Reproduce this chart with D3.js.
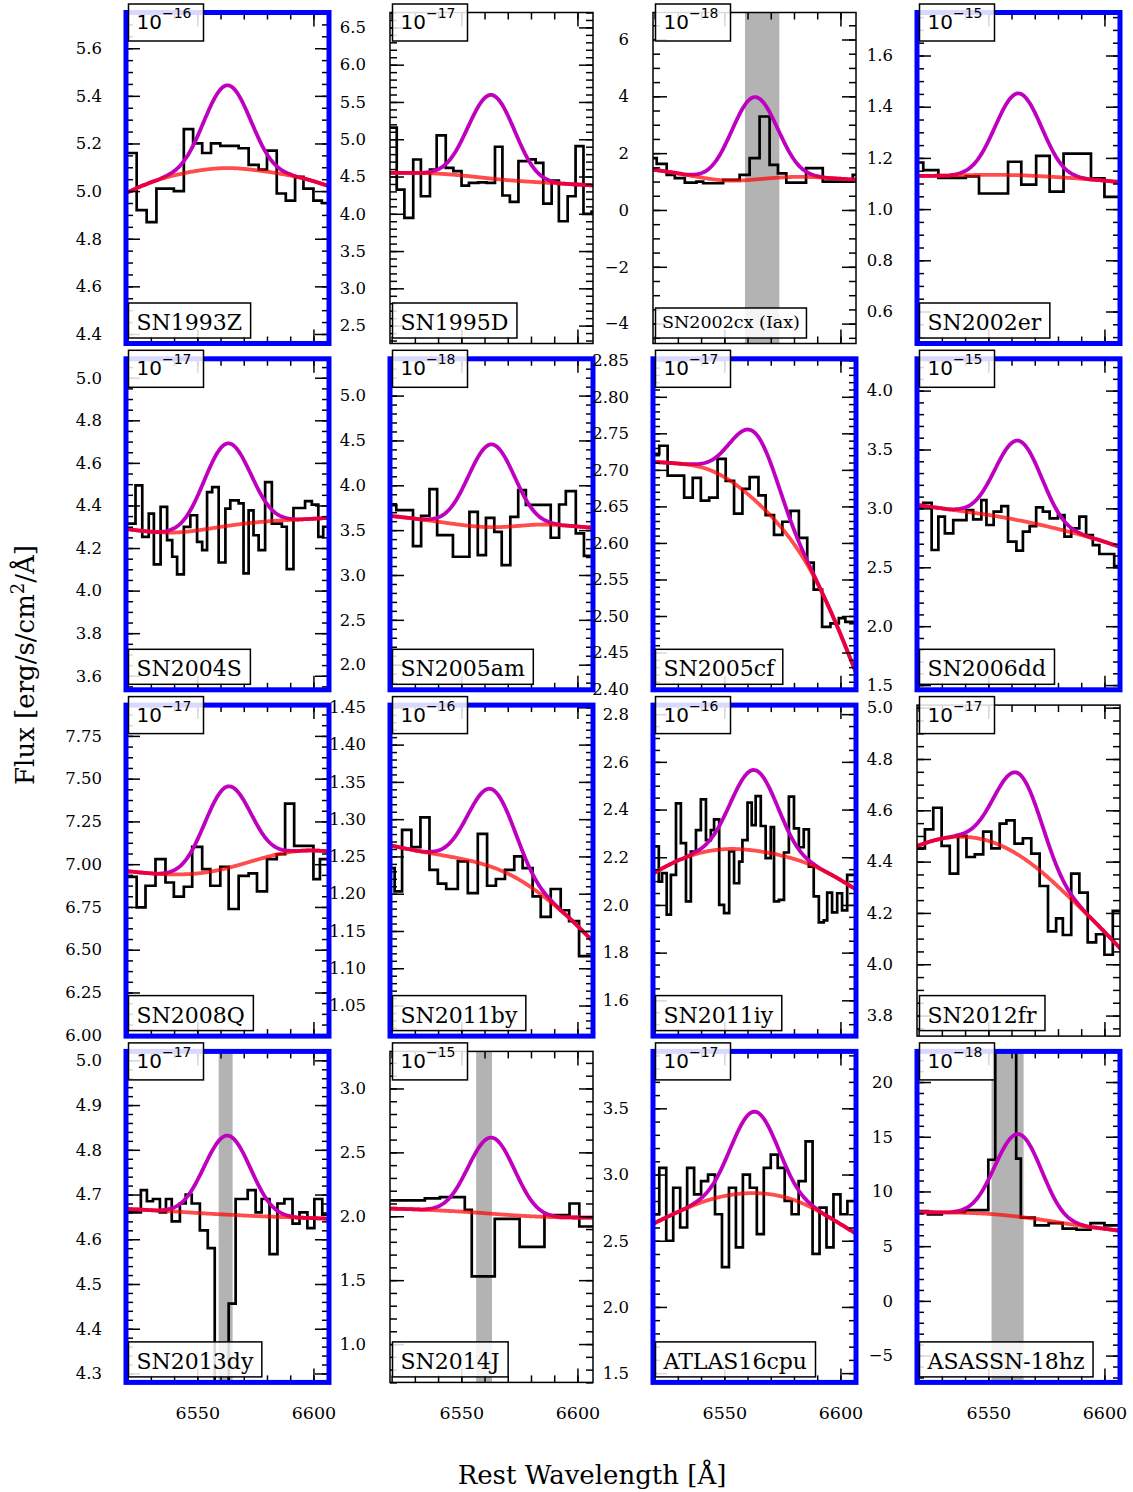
<!DOCTYPE html>
<html>
<head>
<meta charset="utf-8">
<script src="https://cdn.jsdelivr.net/npm/d3@7"></script>
<style>
  body { margin: 0; background: #fff; }
  text { font-family: "DejaVu Serif", serif; fill: #000; }
</style>
</head>
<body>
<script>
// panel names, exponents and frame colour, in reading order
const names = ["SN1993Z", "SN1995D", "SN2002cx (Iax)", "SN2002er",
  "SN2004S", "SN2005am", "SN2005cf", "SN2006dd",
  "SN2008Q", "SN2011by", "SN2011iy", "SN2012fr",
  "SN2013dy", "SN2014J", "ATLAS16cpu", "ASASSN-18hz"];
const exponents = [-16, -17, -18, -15, -17, -18, -17, -15, -17, -16, -16, -17, -17, -15, -17, -18];
const blueFrame = [true, false, false, true, true, true, true, true, true, true, true, false, true, false, true, true];

// y limits, major tick step and decimals of the tick labels
const yDomains = [[4.36, 5.75], [2.26, 6.70], [-4.70, 6.95], [0.475, 1.768],
  [3.534, 5.089], [1.72, 5.41], [2.399, 2.852], [1.46, 4.27],
  [5.995, 7.93], [1.009, 1.453], [1.45, 2.838], [3.72, 5.01],
  [4.28, 5.02], [0.70, 3.29], [1.43, 3.93], [-7.45, 22.8]];
const yStep = [0.2, 0.5, 2, 0.2, 0.2, 0.5, 0.05, 0.5, 0.25, 0.05, 0.2, 0.2, 0.1, 0.5, 0.5, 5];
const yDecimals = [1, 1, 0, 1, 1, 1, 2, 1, 2, 2, 1, 1, 1, 1, 1, 0];

// wavelength axis
const xDomain = [6519.3, 6606.7];
const xMinor = [6520, 6530, 6540, 6550, 6560, 6570, 6580, 6590, 6600];
const xMajor = [6550, 6600];

// masked regions
const bands = [null, null, [6558.9, 6573.7], null, null, null, null, null,
  null, null, null, null, [6559.2, 6565.2], [6556.4, 6563.2], null, [6551.4, 6565.2]];

// continuum model sampled at contWave, H-alpha line amplitude and profile
const contWave = [6519, 6530, 6541, 6552, 6563, 6574, 6585, 6596, 6607];
const lineWave = [6533, 6538, 6543, 6548, 6553, 6558, 6563, 6568, 6573, 6578, 6583, 6588, 6593];
const lineShape = [0, 0.02, 0.09, 0.28, 0.59, 0.9, 1.04, 0.9, 0.59, 0.28, 0.09, 0.02, 0];
const lineAmp = [0.35, 1.13, 2.92, 0.322, 0.39, 0.93, 0.093, 0.68, 0.48, 0.105, 0.34, 0.32, 0.178, 0.6, 0.62, 7.6];

// spectra: bin edges and flux per bin
const sn1993zEdges = [6519, 6523.9, 6528.2, 6532.4, 6536.3, 6539.9, 6544.2, 6548.2, 6552.1, 6555.9, 6559.9, 6564.2, 6567.8, 6572.1, 6576.4, 6580.0, 6584.2, 6588.1, 6592.1, 6595.7, 6600.0, 6603.6, 6607];
const sn1993zFlux = [5.16, 4.92, 4.87, 5.01, 5.01, 5.00, 5.26, 5.20, 5.16, 5.20, 5.19, 5.19, 5.18, 5.11, 5.09, 5.17, 4.99, 4.96, 5.06, 5.01, 4.96, 4.95];
const sn1993zCont = [4.99, 5.04, 5.07, 5.09, 5.10, 5.09, 5.075, 5.055, 5.02];

const sn1995dEdges = [6519, 6522.2, 6525.5, 6529.3, 6532.6, 6536.5, 6539.4, 6543.3, 6546.6, 6550.1, 6553.3, 6557.3, 6560.9, 6564.5, 6567.7, 6570.9, 6574.6, 6578.9, 6582.0, 6585.3, 6588.9, 6592.0, 6595.8, 6599.2, 6602.6, 6606.1, 6607];
const sn1995dFlux = [5.155, 4.325, 3.945, 4.728, 4.235, 4.594, 5.051, 4.617, 4.571, 4.379, 4.415, 4.42, 4.415, 4.899, 4.245, 4.16, 4.706, 4.73, 4.684, 4.137, 4.446, 3.90, 4.235, 4.907, 3.999, 4.03];
const sn1995dCont = [4.55, 4.55, 4.54, 4.51, 4.47, 4.44, 4.42, 4.40, 4.38];

const sn2002cxEdges = [6519, 6520.9, 6525.2, 6528.7, 6533.0, 6538.0, 6540.9, 6549.5, 6556.6, 6560.9, 6565.2, 6569.5, 6573.1, 6576.7, 6585.2, 6592.4, 6598.1, 6605.3, 6607];
const sn2002cxFlux = [1.825, 1.62, 1.235, 1.12, 0.965, 1.0, 0.94, 1.06, 1.235, 1.825, 3.29, 1.59, 1.29, 0.965, 1.47, 1.0, 1.0, 1.235];
const sn2002cxCont = [1.42, 1.30, 1.12, 1.0, 1.07, 1.15, 1.18, 1.12, 1.06];

const sn2002erEdges = [6519, 6522.0, 6528.5, 6540.3, 6546.0, 6558.5, 6564.2, 6570.6, 6576.4, 6582.4, 6594.2, 6600.0, 6607];
const sn2002erFlux = [1.182, 1.152, 1.122, 1.128, 1.061, 1.185, 1.096, 1.208, 1.068, 1.217, 1.12, 1.048];
const sn2002erCont = [1.13, 1.13, 1.133, 1.134, 1.133, 1.128, 1.122, 1.115, 1.105];

const sn2004sEdges = [6519, 6523.4, 6526.3, 6529.1, 6531.3, 6534.2, 6537.0, 6539.2, 6541.3, 6544.2, 6547.0, 6549.9, 6552.1, 6554.2, 6556.4, 6559.2, 6562.1, 6564.2, 6567.8, 6569.9, 6572.1, 6574.2, 6576.4, 6579.2, 6582.1, 6586.4, 6588.5, 6591.4, 6596.4, 6599.3, 6602.1, 6604.2, 6607];
const sn2004sFlux = [4.315, 4.494, 4.252, 4.362, 4.123, 4.393, 4.237, 4.159, 4.076, 4.299, 4.354, 4.229, 4.19, 4.463, 4.486, 4.132, 4.385, 4.424, 4.41, 4.081, 4.377, 4.26, 4.19, 4.51, 4.315, 4.30, 4.101, 4.388, 4.42, 4.404, 4.252, 4.30];
const sn2004sCont = [4.29, 4.275, 4.27, 4.285, 4.305, 4.32, 4.33, 4.335, 4.342];

const sn2005amEdges = [6519, 6522.0, 6529.2, 6532.7, 6536.3, 6539.6, 6546.4, 6553.5, 6557.1, 6560.6, 6564.2, 6567.4, 6571.1, 6574.5, 6577.8, 6588.5, 6592.1, 6595.0, 6599.3, 6602.8, 6607];
const sn2005amFlux = [3.778, 3.723, 3.322, 3.659, 3.957, 3.445, 3.203, 3.704, 3.222, 3.637, 3.481, 3.11, 3.648, 3.945, 3.782, 3.415, 3.786, 3.934, 3.463, 3.214];
const sn2005amCont = [3.66, 3.63, 3.59, 3.55, 3.525, 3.545, 3.57, 3.55, 3.525];

const sn2005cfEdges = [6519, 6522.0, 6525.6, 6532.7, 6536.4, 6539.9, 6543.5, 6547.1, 6550.6, 6554.2, 6557.8, 6560.9, 6564.7, 6567.8, 6571.4, 6575.0, 6578.5, 6582.1, 6585.7, 6588.5, 6592.1, 6595.7, 6599.3, 6602.1, 6607];
const sn2005cfFlux = [2.722, 2.733, 2.692, 2.662, 2.689, 2.658, 2.662, 2.715, 2.685, 2.64, 2.674, 2.69, 2.665, 2.638, 2.611, 2.629, 2.644, 2.607, 2.573, 2.536, 2.485, 2.49, 2.497, 2.492];
const sn2005cfCont = [2.711, 2.709, 2.705, 2.688, 2.66, 2.625, 2.578, 2.508, 2.42];

const sn2006ddEdges = [6519, 6522.0, 6525.6, 6528.5, 6531.3, 6534.9, 6540.6, 6543.5, 6547.0, 6549.2, 6552.3, 6555.6, 6558.5, 6562.1, 6564.9, 6567.8, 6570.6, 6573.5, 6576.4, 6580.0, 6582.8, 6585.7, 6589.2, 6592.1, 6595.0, 6597.8, 6604.2, 6607];
const sn2006ddFlux = [3.014, 3.048, 2.647, 2.93, 2.788, 2.901, 2.986, 2.907, 3.07, 2.859, 2.972, 3.02, 2.718, 2.642, 2.802, 2.85, 3.008, 2.972, 2.915, 2.943, 2.76, 2.83, 2.93, 2.774, 2.689, 2.613, 2.511];
const sn2006ddCont = [3.03, 3.0, 2.97, 2.94, 2.90, 2.855, 2.80, 2.745, 2.67];

const sn2008qEdges = [6519, 6523.9, 6527.7, 6532.0, 6536.3, 6539.9, 6544.2, 6547.8, 6552.1, 6555.6, 6559.9, 6563.5, 6567.8, 6572.1, 6575.7, 6580.0, 6584.2, 6587.8, 6591.7, 6600.0, 6602.8, 6607];
const sn2008qFlux = [6.926, 6.748, 6.874, 7.029, 6.893, 6.81, 6.868, 7.101, 6.971, 6.874, 6.985, 6.738, 6.932, 6.946, 6.841, 7.029, 7.058, 7.354, 7.107, 6.913, 7.029];
const sn2008qCont = [6.96, 6.945, 6.938, 6.945, 6.975, 7.02, 7.062, 7.085, 7.075];

const sn2011byEdges = [6519, 6521.3, 6524.5, 6528.5, 6532.4, 6536.3, 6539.9, 6543.5, 6548.5, 6552.8, 6557.1, 6561.1, 6564.9, 6568.8, 6572.8, 6576.4, 6580.7, 6584.2, 6588.5, 6592.8, 6596.4, 6600.7, 6607];
const sn2011byFlux = [1.2344, 1.2032, 1.2856, 1.2624, 1.3025, 1.2321, 1.2134, 1.2063, 1.2433, 1.2009, 1.2802, 1.2107, 1.2197, 1.2321, 1.25, 1.2344, 1.1965, 1.1689, 1.2063, 1.1778, 1.1631, 1.1163];
const sn2011byCont = [1.265, 1.258, 1.252, 1.246, 1.237, 1.222, 1.198, 1.17, 1.135];

const sn2011iyEdges = [6519, 6521.8, 6523.2, 6525.2, 6527.0, 6529.2, 6531.3, 6533.5, 6535.6, 6537.8, 6539.9, 6542.1, 6544.2, 6545.6, 6547.8, 6549.9, 6552.1, 6554.2, 6556.4, 6557.8, 6560.0, 6561.8, 6563.5, 6565.7, 6567.8, 6570.0, 6571.4, 6573.5, 6575.7, 6577.8, 6580.0, 6582.1, 6584.2, 6586.4, 6588.5, 6590.7, 6592.8, 6594.3, 6596.4, 6598.6, 6600.7, 6602.9, 6607];
const sn2011iyFlux = [2.245, 2.098, 2.133, 1.959, 2.126, 2.426, 2.259, 2.015, 2.224, 2.314, 2.443, 2.272, 2.314, 2.359, 2.0, 1.966, 2.224, 2.091, 2.182, 2.272, 2.429, 2.335, 2.456, 2.331, 2.196, 2.326, 2.015, 2.021, 2.22, 2.454, 2.321, 2.242, 2.317, 2.161, 2.036, 1.927, 1.935, 2.052, 1.969, 2.049, 1.977, 2.126];
const sn2011iyCont = [2.13, 2.19, 2.225, 2.238, 2.23, 2.21, 2.18, 2.13, 2.063];

const sn2012frEdges = [6519, 6522.7, 6526.3, 6529.9, 6533.4, 6537.0, 6540.6, 6544.2, 6547.8, 6551.3, 6554.9, 6557.8, 6561.3, 6564.9, 6568.5, 6572.1, 6575.7, 6579.2, 6582.1, 6585.7, 6589.2, 6592.8, 6596.4, 6600.0, 6603.6, 6607];
const sn2012frFlux = [4.452, 4.526, 4.61, 4.461, 4.353, 4.5, 4.418, 4.428, 4.517, 4.452, 4.548, 4.561, 4.47, 4.491, 4.431, 4.305, 4.128, 4.179, 4.114, 4.353, 4.279, 4.085, 4.117, 4.037, 4.208];
const sn2012frCont = [4.46, 4.495, 4.50, 4.48, 4.43, 4.355, 4.26, 4.165, 4.06];

const sn2013dyEdges = [6519, 6525.7, 6528.3, 6530.9, 6533.9, 6536.5, 6539.0, 6542.5, 6545.0, 6547.6, 6551.1, 6554.5, 6557.5, 6563.5, 6566.5, 6571.7, 6575.1, 6577.7, 6581.1, 6584.5, 6587.5, 6591.0, 6594.0, 6597.4, 6600.4, 6603.8, 6607];
const sn2013dyFlux = [4.66, 4.71, 4.685, 4.69, 4.66, 4.69, 4.64, 4.68, 4.70, 4.68, 4.62, 4.58, 4.2, 4.456, 4.69, 4.71, 4.66, 4.69, 4.567, 4.68, 4.69, 4.635, 4.66, 4.625, 4.69, 4.655];
const sn2013dyCont = [4.668, 4.665, 4.662, 4.658, 4.655, 4.652, 4.65, 4.648, 4.646];

const sn2014jEdges = [6519, 6534.3, 6540.8, 6551.5, 6554.5, 6564.4, 6575.1, 6585.8, 6596.6, 6600.8, 6607];
const sn2014jFlux = [2.125, 2.14, 2.15, 2.05, 1.53, 1.98, 1.76, 2.01, 2.1, 1.92];
const sn2014jCont = [2.06, 2.055, 2.045, 2.035, 2.02, 2.005, 1.995, 1.99, 1.99];

const atlas16cpuEdges = [6519, 6522, 6525, 6528, 6531, 6534, 6537, 6540, 6543, 6546, 6549, 6552, 6555, 6558, 6561, 6564, 6567, 6570, 6573, 6576, 6579, 6582, 6585, 6588, 6591, 6594, 6597, 6600, 6603, 6607];
const atlas16cpuFlux = [2.7, 3.05, 2.5, 2.9, 2.6, 3.05, 2.85, 2.95, 3.0, 2.7, 2.3, 2.9, 2.45, 3.0, 2.9, 2.55, 3.05, 3.15, 3.05, 2.8, 2.7, 2.95, 3.25, 2.4, 2.75, 2.45, 2.85, 2.7, 2.8];
const atlas16cpuCont = [2.625, 2.72, 2.8, 2.85, 2.865, 2.845, 2.78, 2.67, 2.55];

const asassn18hzEdges = [6519, 6524, 6530, 6540, 6550, 6553, 6558, 6562, 6564, 6570, 6576, 6582, 6588, 6594, 6600, 6607];
const asassn18hzFlux = [8.2, 7.9, 8.1, 8.3, 12.9, 25, 25, 13, 7.6, 6.9, 7.1, 6.6, 6.5, 7.1, 6.9];
const asassn18hzCont = [8.1, 8.1, 8.05, 7.95, 7.7, 7.4, 7.0, 6.7, 6.4];

const allEdges = [sn1993zEdges, sn1995dEdges, sn2002cxEdges, sn2002erEdges, sn2004sEdges, sn2005amEdges,
  sn2005cfEdges, sn2006ddEdges, sn2008qEdges, sn2011byEdges, sn2011iyEdges, sn2012frEdges,
  sn2013dyEdges, sn2014jEdges, atlas16cpuEdges, asassn18hzEdges];
const allFlux = [sn1993zFlux, sn1995dFlux, sn2002cxFlux, sn2002erFlux, sn2004sFlux, sn2005amFlux,
  sn2005cfFlux, sn2006ddFlux, sn2008qFlux, sn2011byFlux, sn2011iyFlux, sn2012frFlux,
  sn2013dyFlux, sn2014jFlux, atlas16cpuFlux, asassn18hzFlux];
const allCont = [sn1993zCont, sn1995dCont, sn2002cxCont, sn2002erCont, sn2004sCont, sn2005amCont,
  sn2005cfCont, sn2006ddCont, sn2008qCont, sn2011byCont, sn2011iyCont, sn2012frCont,
  sn2013dyCont, sn2014jCont, atlas16cpuCont, asassn18hzCont];

// figure frame
const width = 1133, height = 1492;
const colX = [126, 390, 653, 917],
  rowY = [12.5, 358.8, 705.1, 1051.4],
  pw = 203,
  ph = 331;

let svg = d3.select("body").append("svg").attr("width", width).attr("height", height);
svg.append("rect").attr("width", width).attr("height", height).attr("fill", "white");

// tick values k*step inside [lo, hi]
function tickRange(lo, hi, step) {
  let out = [];
  for (let k = Math.ceil(lo / step - 1e-6); k * step <= hi + 1e-9; k++) {
    out.push(+(k * step).toFixed(6));
  }
  return out;
}

const stepLine = d3.line().curve(d3.curveStepAfter);
const smoothLine = d3.line();
const contT = (w) => (w - contWave[0]) / (contWave[contWave.length - 1] - contWave[0]);
const shapeFn = d3.interpolateBasis(lineShape);
const lineProfile = function (w) {
  if (w < lineWave[0] || w > lineWave[lineWave.length - 1]) return 0;
  return shapeFn((w - lineWave[0]) / (lineWave[lineWave.length - 1] - lineWave[0]));
};
const grid = d3.range(contWave[0], contWave[contWave.length - 1] + 0.01, 0.5);

names.forEach(function (name, i) {
  let col = i % 4,
    row = Math.floor(i / 4);
  let x = d3.scaleLinear().domain(xDomain).range([0, pw]);
  let y = d3.scaleLinear().domain(yDomains[i]).range([ph, 0]);

  let g = svg.append("g").attr("transform", "translate(" + colX[col] + "," + rowY[row] + ")");

  g.append("clipPath").attr("id", "clip" + i)
    .append("rect").attr("width", pw).attr("height", ph);
  let plot = g.append("g").attr("clip-path", "url(#clip" + i + ")");

  // masked band
  if (bands[i]) {
    plot.append("rect")
      .attr("x", x(bands[i][0]))
      .attr("width", x(bands[i][1]) - x(bands[i][0]))
      .attr("y", 0)
      .attr("height", ph)
      .attr("fill", "#b3b3b3");
  }

  // binned spectrum
  let edges = allEdges[i], flux = allFlux[i];
  let pts = flux.map((f, k) => [x(edges[k]), y(f)]);
  pts.push([x(edges[edges.length - 1]), y(flux[flux.length - 1])]);
  plot.append("path")
    .attr("d", stepLine(pts))
    .attr("fill", "none")
    .attr("stroke", "black")
    .attr("stroke-width", 2.7);

  // continuum + line model
  let cont = d3.interpolateBasis(allCont[i]);
  plot.append("path")
    .attr("d", smoothLine(grid.map((w) => [x(w), y(cont(contT(w)) + lineAmp[i] * lineProfile(w))])))
    .attr("fill", "none")
    .attr("stroke", "#bf00bf")
    .attr("stroke-width", 3.8);
  plot.append("path")
    .attr("d", smoothLine(grid.map((w) => [x(w), y(cont(contT(w)))])))
    .attr("fill", "none")
    .attr("stroke", "#ff0000")
    .attr("stroke-opacity", 0.7)
    .attr("stroke-width", 3.8);

  // y ticks, labels on the left
  let lo = yDomains[i][0], hi = yDomains[i][1];
  let major = tickRange(lo, hi, yStep[i]);
  let mant = +(yStep[i] / Math.pow(10, Math.floor(Math.log10(yStep[i]) + 1e-9))).toFixed(3);
  let ndiv = mant == 1 || mant == 5 ? 5 : 4;
  let minor = tickRange(lo, hi, yStep[i] / ndiv);
  let fmt = d3.format("." + yDecimals[i] + "f");

  let yl = g.append("g").call(d3.axisLeft(y).tickValues(major).tickSize(-14).tickPadding(24).tickFormat(fmt));
  g.append("g").call(d3.axisLeft(y).tickValues(minor).tickSize(-7).tickFormat(""));
  g.append("g").attr("transform", "translate(" + pw + ",0)")
    .call(d3.axisRight(y).tickValues(major).tickSize(-14).tickFormat(""));
  g.append("g").attr("transform", "translate(" + pw + ",0)")
    .call(d3.axisRight(y).tickValues(minor).tickSize(-7).tickFormat(""));
  yl.selectAll("text").style("font-size", "16.5px").style("font-family", "DejaVu Serif");

  // x ticks top and bottom
  g.append("g").call(d3.axisTop(x).tickValues(xMinor).tickSize(-7).tickFormat(""));
  g.append("g").call(d3.axisTop(x).tickValues(xMajor).tickSize(-14).tickFormat(""));
  g.append("g").attr("transform", "translate(0," + ph + ")")
    .call(d3.axisBottom(x).tickValues(xMinor).tickSize(-7).tickFormat(""));
  let xb = g.append("g").attr("transform", "translate(0," + ph + ")")
    .call(d3.axisBottom(x).tickValues(xMajor).tickSize(-14).tickPadding(24)
      .tickFormat(row == 3 ? d3.format("d") : ""));
  xb.selectAll("text").style("font-size", "17.5px").style("font-family", "DejaVu Serif");

  g.selectAll(".domain").remove();
  g.selectAll(".tick line").attr("stroke", "black").attr("stroke-width", 1.5);

  // frame
  g.append("rect")
    .attr("width", pw)
    .attr("height", ph)
    .attr("fill", "none")
    .attr("stroke", blueFrame[i] ? "#0000ff" : "black")
    .attr("stroke-width", blueFrame[i] ? 5 : 1.5);

  // flux scale box
  g.append("rect")
    .attr("x", 2.5).attr("y", -8.5).attr("width", 75).attr("height", 37)
    .attr("fill", "white").attr("fill-opacity", 0.85)
    .attr("stroke", "black").attr("stroke-width", 1.5);
  let expText = g.append("text").attr("x", 10.5).attr("y", 16.5)
    .style("font-family", "DejaVu Sans").style("font-size", "20px");
  expText.append("tspan").text("10");
  expText.append("tspan").attr("dy", -11).style("font-size", "14px").text("\u2212" + Math.abs(exponents[i]));

  // name box
  let small = name.length > 12;
  let bh = small ? 30 : 35;
  let box = g.append("rect")
    .attr("x", 2.5)
    .attr("y", ph - 5.5 - bh)
    .attr("height", bh)
    .attr("fill", "white").attr("fill-opacity", 0.85)
    .attr("stroke", "black").attr("stroke-width", 1.5);
  let label = g.append("text")
    .attr("x", small ? 9 : 10.5)
    .attr("y", ph - (small ? 15.5 : 13.5))
    .style("font-size", small ? "17.5px" : "22px")
    .text(name);
  let tw = label.node().getComputedTextLength();
  box.attr("width", tw + (small ? 13 : 16.5));
});

// axis titles
svg.append("text")
  .attr("x", 592).attr("y", 1484)
  .attr("text-anchor", "middle")
  .style("font-size", "26px")
  .text("Rest Wavelength [\u00c5]");

let yTitle = svg.append("text")
  .attr("transform", "translate(34,665) rotate(-90)")
  .attr("text-anchor", "middle")
  .style("font-size", "26px");
yTitle.append("tspan").text("Flux [erg/s/cm");
yTitle.append("tspan").attr("dy", -10).style("font-size", "18px").text("2");
yTitle.append("tspan").attr("dy", 10).text("/\u00c5]");
</script>
</body>
</html>
